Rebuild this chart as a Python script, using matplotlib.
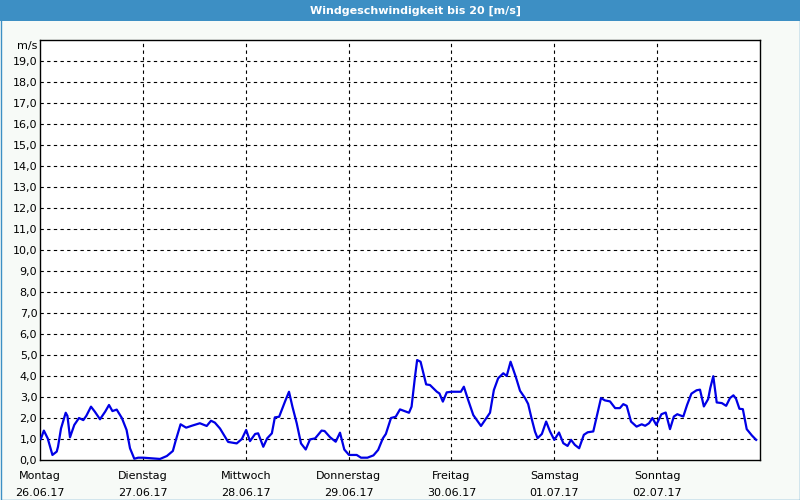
import matplotlib
matplotlib.use("Agg")
import matplotlib.pyplot as plt
from matplotlib.patches import Rectangle

title = "Windgeschwindigkeit bis 20 [m/s]"
day_names = ["Montag", "Dienstag", "Mittwoch", "Donnerstag", "Freitag", "Samstag", "Sonntag"]
day_dates = ["26.06.17", "27.06.17", "28.06.17", "29.06.17", "30.06.17", "01.07.17", "02.07.17"]
y_ticks = list(range(0, 20))
y_labels = [f"{v},0" for v in y_ticks]

hours = [0.2, 0.9, 1.8, 2.9, 3.9, 4.2, 4.9, 6.0, 6.4, 7.0, 8.0, 9.1, 10.1, 10.8, 11.9, 12.8,
         14.0, 15.2, 16.1, 16.9, 17.9, 19.1, 20.2, 21.0, 22.0, 22.9, 24.1, 28.0, 29.6, 31.0,
         31.7, 32.8, 34.1, 35.4, 37.3, 38.9, 39.9, 40.8, 42.0, 43.9, 45.9, 47.1, 48.1, 49.0,
         50.2, 50.9, 52.1, 53.0, 54.1, 54.8, 55.8, 57.2, 58.1, 58.9, 59.9, 60.9, 62.0, 63.0,
         64.2, 65.7, 66.4, 67.7, 69.0, 70.0, 71.0, 72.1, 73.9, 74.9, 76.4, 77.8, 78.9, 80.0,
         80.7, 81.9, 83.0, 84.0, 86.1, 86.7, 87.5, 88.0, 88.8, 90.1, 91.0, 92.6, 93.2, 94.0,
         94.9, 96.0, 98.2, 98.9, 99.9, 101.1, 102.9, 104.1, 105.0, 105.9, 106.9, 108.1, 108.9,
         109.8, 111.0, 112.0, 113.2, 113.9, 114.7, 115.5, 116.1, 117.1, 118.1, 119.0, 120.0,
         121.1, 122.1, 123.1, 123.9, 124.8, 125.8, 126.9, 127.8, 129.1, 129.9, 130.9, 131.8,
         133.0, 134.2, 135.3, 136.1, 136.9, 137.9, 139.2, 140.4, 141.2, 142.1, 142.9, 143.8,
         145.0, 146.0, 147.0, 147.9, 148.7, 150.1, 151.0, 152.0, 153.2, 154.0, 154.9, 155.9,
         156.4, 157.1, 157.9, 159.1, 160.1, 161.0, 161.8, 162.4, 163.2, 164.0, 164.9, 166.1,
         167.1]
speed = [1.0, 1.4, 1.03, 0.24, 0.4, 0.63, 1.5, 2.25, 2.1, 1.08, 1.67, 2.0, 1.9, 2.1, 2.54, 2.3,
         1.94, 2.3, 2.62, 2.33, 2.4, 2.0, 1.43, 0.56, 0.06, 0.11, 0.11, 0.05, 0.19, 0.43,
         0.95, 1.7, 1.54, 1.63, 1.75, 1.62, 1.87, 1.78, 1.5, 0.86, 0.79, 1.0, 1.43, 0.9,
         1.24, 1.27, 0.63, 1.03, 1.27, 2.03, 2.06, 2.8, 3.25, 2.54, 1.75, 0.79, 0.5, 0.98,
         1.03, 1.4, 1.38, 1.08, 0.87, 1.3, 0.5, 0.24, 0.24, 0.11, 0.11, 0.22, 0.48, 1.03,
         1.24, 2.0, 2.06, 2.41, 2.25, 2.54, 3.97, 4.76, 4.68, 3.6, 3.57, 3.25, 3.17, 2.78,
         3.22, 3.25, 3.25, 3.49, 2.86, 2.14, 1.62, 1.98, 2.25, 3.33, 3.89, 4.13, 4.0,
         4.68, 3.97, 3.3, 2.94, 2.67, 1.98, 1.35, 1.04, 1.24, 1.83, 1.36, 0.96,
         1.31, 0.8, 0.67, 0.96, 0.72, 0.56, 1.2, 1.32, 1.36, 2.07, 2.95, 2.84,
         2.79, 2.47, 2.47, 2.66, 2.58, 1.83, 1.59, 1.7, 1.63, 1.75, 2.0, 1.67,
         2.18, 2.26, 1.47, 2.07, 2.18, 2.07, 2.63, 3.16, 3.32, 3.35, 2.55, 2.9,
         3.43, 3.99, 2.74, 2.71, 2.58, 2.95, 3.08, 2.92, 2.44, 2.42, 1.47, 1.17,
         0.96]

plt.rcParams['font.family'] = ['DejaVu Sans']
blue_bar = "#3d8fc4"

fig = plt.figure(figsize=(8, 5), dpi=100, facecolor="#f7faf7")
# title bar
fig.patches.append(Rectangle((0, 1 - 21 / 500), 1, 21 / 500, transform=fig.transFigure,
                             facecolor=blue_bar, edgecolor="none", zorder=0))
# outer border
fig.patches.append(Rectangle((0.5 / 800, 0.5 / 500), 1 - 1 / 800, 1 - 1 / 500, transform=fig.transFigure,
                             facecolor="none", edgecolor=blue_bar, linewidth=1.0, zorder=1))
fig.text(416 / 800, 1 - 10.5 / 500, title, color="white", fontsize=8, fontweight="bold",
         ha="center", va="center")

ax = fig.add_axes([40 / 800, 40 / 500, 720 / 800, 420 / 500])
ax.set_facecolor("white")
ax.set_xlim(0, 168)
ax.set_ylim(0, 20)

day_ticks = [24 * i for i in range(len(day_names))]
ax.set_xticks(day_ticks)
ax.set_xticklabels([f"{n}\n{d}" for n, d in zip(day_names, day_dates)], fontsize=8,
                   linespacing=1.8)
ax.set_yticks(y_ticks)
ax.set_yticklabels(y_labels, fontsize=8)
ax.tick_params(axis="both", length=0)
ax.tick_params(axis="y", pad=2)
ax.tick_params(axis="x", pad=8)

for v in range(1, 20):
    ax.axhline(v, color="black", linewidth=0.8, linestyle=(0, (3, 3)), zorder=1)
for t in day_ticks[1:]:
    ax.axvline(t, color="black", linewidth=0.8, linestyle=(0, (3, 3)), zorder=1)

ax.text(-0.6, 19.7, "m/s", fontsize=8, ha="right", va="center",
        transform=ax.transData, clip_on=False)

for s in ax.spines.values():
    s.set_color("black")
    s.set_linewidth(1.0)

ax.plot(hours, speed, color="#0000e6", linewidth=1.6, zorder=3, solid_joinstyle="round")

fig.savefig("out.png", dpi=100, facecolor=fig.get_facecolor())
